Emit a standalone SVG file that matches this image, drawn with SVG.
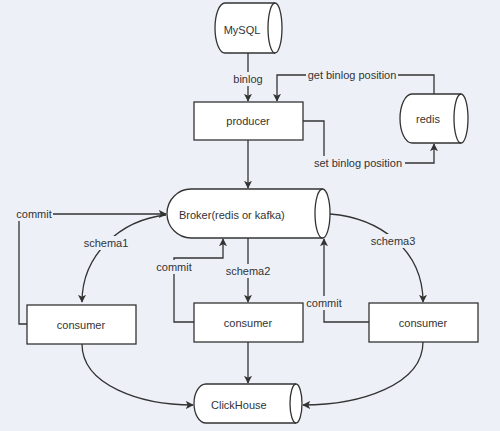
<svg xmlns="http://www.w3.org/2000/svg" width="500" height="431" viewBox="0 0 500 431">
<style>
.n{fill:#fff;stroke:#333;stroke-width:1.3}
.e{fill:none;stroke:#333;stroke-width:1.3}
.t{font-family:"Liberation Sans",Arial,sans-serif;font-size:11px;fill:#333}
.m{text-anchor:middle}
.lb{fill:#edf1f7}
</style>
<defs>
<marker id="a" viewBox="0 0 10 10" refX="9" refY="5" markerWidth="8" markerHeight="8" markerUnits="userSpaceOnUse" orient="auto">
<path d="M0,0 L10,5 L0,10 L2.5,5 Z" fill="#333"/>
</marker>
</defs>
<rect width="500" height="431" fill="#edf1f7"/>
<g id="connectors">
<path class="e" d="M248,53 V101" marker-end="url(#a)"/>
<path class="e" d="M434,94 V75 H277 V101" marker-end="url(#a)"/>
<path class="e" d="M303,121 H324 V163 H434 V144" marker-end="url(#a)"/>
<path class="e" d="M248,140 V188" marker-end="url(#a)"/>
<path class="e" d="M27,324 H19 V214 H166" marker-end="url(#a)"/>
<path class="e" d="M166,215 C120,220 82,255 82,302" marker-end="url(#a)"/>
<path class="e" d="M248,238 V302" marker-end="url(#a)"/>
<path class="e" d="M194,322 H174 V258 H223 V239" marker-end="url(#a)"/>
<path class="e" d="M369,322 H324 V239" marker-end="url(#a)"/>
<path class="e" d="M330,214 C380,218 423,250 423,302" marker-end="url(#a)"/>
<path class="e" d="M82,344 C82,385 140,405 193,405" marker-end="url(#a)"/>
<path class="e" d="M248,342 V383" marker-end="url(#a)"/>
<path class="e" d="M423,342 C423,385 360,405 303,405" marker-end="url(#a)"/>
<rect class="lb" x="231" y="72" width="34" height="14"/>
<text class="t m" x="248" y="83">binlog</text>
<rect class="lb" x="306" y="68" width="92" height="14"/>
<text class="t m" x="352" y="79">get binlog position</text>
<rect class="lb" x="311" y="156" width="94" height="14"/>
<text class="t m" x="358" y="167">set binlog position</text>
<rect class="lb" x="15" y="207" width="38" height="14"/>
<text class="t m" x="34" y="218">commit</text>
<rect class="lb" x="84" y="236" width="44" height="14"/>
<text class="t m" x="106" y="247">schema1</text>
<rect class="lb" x="226" y="264" width="44" height="14"/>
<text class="t m" x="248" y="275">schema2</text>
<rect class="lb" x="371" y="234" width="44" height="14"/>
<text class="t m" x="393" y="245">schema3</text>
<rect class="lb" x="156" y="260" width="37" height="14"/>
<text class="t m" x="174" y="271">commit</text>
<rect class="lb" x="305" y="296" width="38" height="14"/>
<text class="t m" x="324" y="307">commit</text>
</g>
<g id="mysql">
<path class="n" d="M225,3 H275 A7,25 0 0 1 275,53 H225 A10,25 0 0 1 225,3 Z"/>
<path class="e" d="M275,3 A7,25 0 0 0 275,53"/>
<text class="t m" x="242" y="34">MySQL</text>
</g>
<g id="producer">
<rect class="n" x="194" y="102" width="109" height="38"/>
<text class="t m" x="248" y="125">producer</text>
</g>
<g id="redis">
<path class="n" d="M412,94 H461 A7,24.5 0 0 1 461,143 H412 A12,24.5 0 0 1 412,94 Z"/>
<path class="e" d="M461,94 A7,24.5 0 0 0 461,143"/>
<text class="t m" x="428" y="123">redis</text>
</g>
<g id="broker">
<path class="n" d="M191,189 H322.5 A7.5,24.5 0 0 1 322.5,238 H191 A24,24.5 0 0 1 191,189 Z"/>
<path class="e" d="M322.5,189 A7.5,24.5 0 0 0 322.5,238"/>
<text class="t" x="179" y="219">Broker(redis or kafka)</text>
</g>
<g id="consumer1">
<rect class="n" x="27" y="305" width="109" height="39"/>
<text class="t m" x="81" y="329">consumer</text>
</g>
<g id="consumer2">
<rect class="n" x="194" y="303" width="109" height="39"/>
<text class="t m" x="248" y="327">consumer</text>
</g>
<g id="consumer3">
<rect class="n" x="369" y="303" width="109" height="39"/>
<text class="t m" x="423" y="327">consumer</text>
</g>
<g id="clickhouse">
<path class="n" d="M206,384 H296 A6,19.5 0 0 1 296,423 H206 A12,19.5 0 0 1 206,384 Z"/>
<path class="e" d="M296,384 A6,19.5 0 0 0 296,423"/>
<text class="t" x="211" y="409">ClickHouse</text>
</g>
</svg>
